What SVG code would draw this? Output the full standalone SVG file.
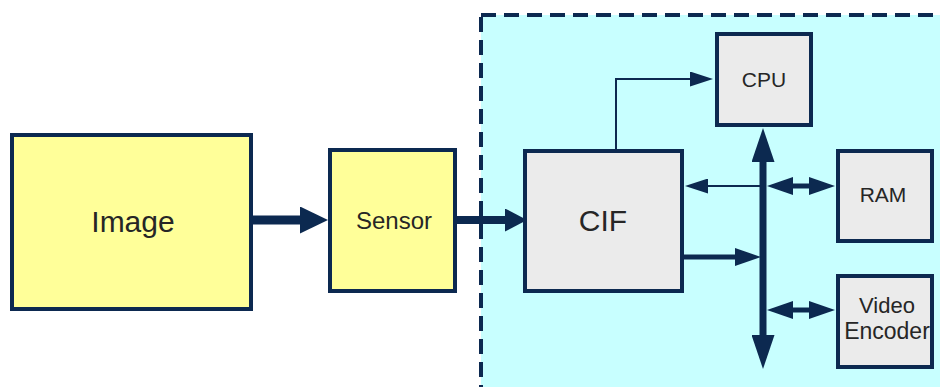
<svg xmlns="http://www.w3.org/2000/svg" width="940" height="387" viewBox="0 0 940 387">
  <style>
    .box { stroke: #0c2950; stroke-width: 4; }
    .ext { fill: #ffff99; }
    .blk { fill: #ebebeb; }
    .edge { fill: none; stroke: #0c2950; stroke-width: 4; }
    .lbl { font-family: "Liberation Sans", Arial, sans-serif; fill: #262626; text-anchor: middle; }
    .wire { fill: none; stroke: #0c2950; stroke-linejoin: miter; }
    .head { fill: #0c2950; }
  </style>
  <defs>
    <marker id="head-big" markerUnits="userSpaceOnUse" markerWidth="28" markerHeight="27" refX="1" refY="13.5" orient="auto-start-reverse">
      <path class="head" d="M0,0 L28,13.5 L0,27 Z"/>
    </marker>
    <marker id="head-med" markerUnits="userSpaceOnUse" markerWidth="22" markerHeight="23" refX="1" refY="11.5" orient="auto-start-reverse">
      <path class="head" d="M0,0 L22,11.5 L0,23 Z"/>
    </marker>
    <marker id="head-bus" markerUnits="userSpaceOnUse" markerWidth="34" markerHeight="23" refX="1" refY="11.5" orient="auto-start-reverse">
      <path class="head" d="M0,0 L34,11.5 L0,23 Z"/>
    </marker>
    <marker id="head-link" markerUnits="userSpaceOnUse" markerWidth="26" markerHeight="18" refX="1" refY="9" orient="auto-start-reverse">
      <path class="head" d="M0,0 L26,9 L0,18 Z"/>
    </marker>
    <marker id="head-thin" markerUnits="userSpaceOnUse" markerWidth="23" markerHeight="15" refX="1" refY="7.5" orient="auto-start-reverse">
      <path class="head" d="M0,0 L23,7.5 L0,15 Z"/>
    </marker>
  </defs>

  <!-- processor boundary (dashed region) -->
  <g id="soc">
    <rect x="481" y="15" width="520" height="420" fill="#c8ffff" stroke="#0c2950" stroke-width="4" stroke-dasharray="15 8"/>
  </g>

  <!-- connectors -->
  <g id="connectors">
    <line class="wire" x1="253" y1="220" x2="301" y2="220" stroke-width="9" marker-end="url(#head-big)"/>
    <line class="wire" x1="457" y1="220" x2="506" y2="220" stroke-width="8" marker-end="url(#head-med)"/>
    <path class="wire" d="M616,149 V79 H691" stroke-width="2" marker-end="url(#head-thin)"/>
    <line class="wire" x1="763" y1="161" x2="763" y2="336" stroke-width="7" marker-start="url(#head-bus)" marker-end="url(#head-bus)"/>
    <line class="wire" x1="763" y1="186" x2="707" y2="186" stroke-width="2" marker-end="url(#head-thin)"/>
    <line class="wire" x1="792" y1="186" x2="810" y2="186" stroke-width="5" marker-start="url(#head-link)" marker-end="url(#head-link)"/>
    <line class="wire" x1="792" y1="310" x2="810" y2="310" stroke-width="5" marker-start="url(#head-link)" marker-end="url(#head-link)"/>
    <line class="wire" x1="684" y1="257" x2="736" y2="257" stroke-width="5" marker-end="url(#head-link)"/>
  </g>

  <g id="image">
    <rect class="box ext" x="12" y="135" width="239" height="174"/>
    <text class="lbl" x="133" y="232" font-size="30">Image</text>
  </g>

  <g id="sensor">
    <rect class="box ext" x="330" y="150" width="125" height="141"/>
    <text class="lbl" x="394" y="229" font-size="24">Sensor</text>
  </g>

  <g id="cif">
    <rect class="box blk" x="525" y="151" width="157" height="140"/>
    <text class="lbl" x="603" y="231" font-size="30">CIF</text>
  </g>

  <g id="cpu">
    <rect class="box blk" x="717" y="34" width="94" height="91"/>
    <text class="lbl" x="764" y="87" font-size="21">CPU</text>
  </g>

  <g id="ram">
    <rect class="box blk" x="838" y="151" width="94" height="90"/>
    <text class="lbl" x="883" y="202" font-size="21">RAM</text>
  </g>

  <g id="video-encoder">
    <rect class="blk" x="838" y="276" width="94" height="91"/>
    <text class="lbl" x="887" y="313" font-size="22">Video</text>
    <text class="lbl" x="887" y="339" font-size="23">Encoder</text>
    <rect class="edge" x="838" y="276" width="94" height="91"/>
  </g>
</svg>
